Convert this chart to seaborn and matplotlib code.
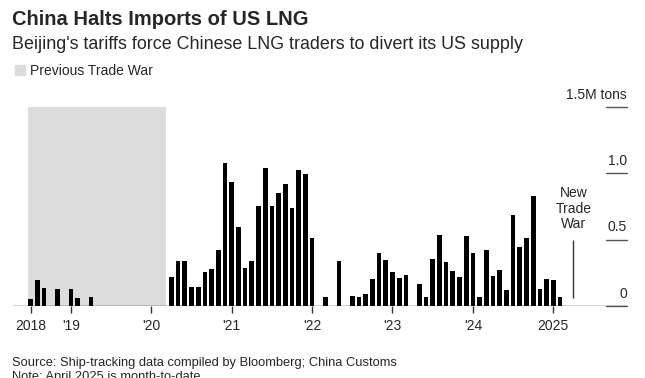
"""China LNG imports from the US, monthly, with trade-war shading."""

import matplotlib.pyplot as plt
import pandas as pd
import seaborn as sns
from matplotlib.patches import Rectangle

# monthly imports, million tons, Jul 2018 .. Apr 2025 (April is month-to-date)
MONTHS = [str(p) for p in pd.period_range("2018-07", "2025-04", freq="M")]
IMPORTS = [
    # 2018 (Jul-Dec)
    0.055, 0.193, 0.135, 0.0, 0.130, 0.0,
    # 2019
    0.125, 0.063, 0.0, 0.065, 0.0, 0.0, 0.0, 0.0, 0.0, 0.0, 0.0, 0.0,
    # 2020
    0.0, 0.0, 0.0, 0.218, 0.338, 0.338, 0.143, 0.143, 0.260, 0.280, 0.419, 1.078,
    # 2021
    0.937, 0.596, 0.283, 0.336, 0.757, 1.038, 0.752, 0.850, 0.920, 0.742, 1.028, 0.992,
    # 2022
    0.514, 0.0, 0.065, 0.0, 0.341, 0.0, 0.075, 0.068, 0.088, 0.203, 0.398, 0.348,
    # 2023
    0.256, 0.210, 0.233, 0.0, 0.165, 0.070, 0.351, 0.536, 0.333, 0.261, 0.216, 0.531,
    # 2024
    0.398, 0.068, 0.421, 0.223, 0.268, 0.118, 0.689, 0.444, 0.514, 0.827, 0.128, 0.203,
    # 2025
    0.193, 0.065, 0.0, 0.0,
]

TICK_MONTHS = ["2018-07", "2019-01", "2020-01", "2021-01", "2022-01", "2023-01", "2024-01", "2025-01"]
TICK_LABELS = ["2018", "'19", "'20", "'21", "'22", "'23", "'24", "2025"]
Y_TICKS = [0, 0.5, 1.0, 1.5]
Y_LABELS = ["0", "0.5", "1.0", "1.5M tons"]

PREV_WAR = ("2018-07", "2020-03")
NEW_WAR = "2025-04"

BAND = "#dcdcdc"

sns.set_style("white")
plt.rcParams["font.family"] = ["Liberation Sans", "DejaVu Sans"]

df = pd.DataFrame({"month": MONTHS, "imports": IMPORTS})

fig = plt.figure(figsize=(6.45, 3.78), dpi=100)
ax = fig.add_axes([13 / 645, 1 - 306 / 378, 614 / 645, 199 / 378])

pos = {m: i for i, m in enumerate(MONTHS)}

ax.axvspan(pos[PREV_WAR[0]] - 0.4, pos[PREV_WAR[1]] + 0.2, color=BAND, lw=0, zorder=0)

sns.barplot(
    data=df,
    x="month",
    y="imports",
    order=MONTHS,
    color="black",
    saturation=1,
    width=0.7,
    linewidth=0,
    errorbar=None,
    ax=ax,
    zorder=2,
)

ax.axhline(0, color="#333333", lw=1, zorder=3)

ax.set_xlim(-2.64, 89.0)
ax.set_ylim(0, 1.5)
for s in ax.spines.values():
    s.set_visible(False)

ax.set_xticks([pos[m] for m in TICK_MONTHS])
ax.set_xticklabels(TICK_LABELS)
ax.tick_params(axis="x", length=5, width=1, color="#333333", pad=4, labelsize=10, bottom=True)
ax.set_yticks([])
ax.set_xlabel("")
ax.set_ylabel("")

# right-hand scale: short rules with labels sitting on top
ytr = ax.get_yaxis_transform()
for v, lab in zip(Y_TICKS, Y_LABELS):
    ax.plot([0.966, 1.0], [v, v], transform=ytr, color="#555555", lw=1, clip_on=False)
    ax.annotate(lab, xy=(1.0, v), xycoords=ytr, xytext=(0, 6), textcoords="offset points",
                ha="right", va="baseline", fontsize=10, annotation_clip=False)

# new trade war marker
x_new = pos[NEW_WAR]
ax.vlines(x_new, 0.06, 0.5, color="#333333", lw=1, zorder=3)
ax.annotate("New\nTrade\nWar", xy=(x_new, 0.5), xytext=(0, 6), textcoords="offset points",
            ha="center", va="bottom", fontsize=10, linespacing=1.15)

fig.text(12 / 645, 1 - 25 / 378, "China Halts Imports of US LNG", fontsize=14.5,
         fontweight="bold", va="baseline")
fig.text(12 / 645, 1 - 49 / 378, "Beijing's tariffs force Chinese LNG traders to divert its US supply",
         fontsize=12.9, va="baseline")
fig.patches.append(Rectangle((15 / 645, 1 - 75 / 378), 10 / 645, 10 / 378, color=BAND,
                             transform=fig.transFigure, figure=fig))
fig.text(30 / 645, 1 - 75 / 378, "Previous Trade War", fontsize=10, va="baseline")

fig.text(12 / 645, 1 - 366 / 378, "Source: Ship-tracking data compiled by Bloomberg; China Customs",
         fontsize=9.3, va="baseline")
fig.text(12 / 645, 1 - 380 / 378, "Note: April 2025 is month-to-date", fontsize=9.3, va="baseline")

fig.savefig("out.png", dpi=100)
